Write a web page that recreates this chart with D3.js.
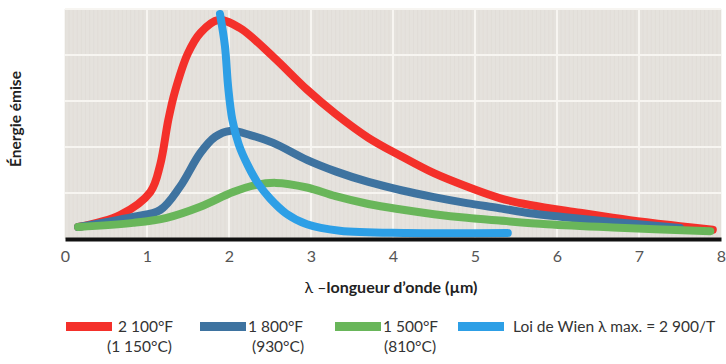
<!DOCTYPE html>
<html><head><meta charset="utf-8">
<script src="https://cdn.jsdelivr.net/npm/d3@7"></script>
<style>body{margin:0;background:#fff;}svg{display:block;font-family:Lato,"Open Sans",sans-serif;}</style>
</head><body>
<svg id="c" width="726" height="364"></svg>
<script>
const xTicks = [0,1,2,3,4,5,6,7,8];
const yGrid = [1,2,3,4,5];
const red2100 = [[0.16,0.26],[0.67,0.52],[1.04,1.02],[1.16,1.61],[1.26,2.59],[1.34,3.2],[1.5,4.04],[1.65,4.48],[1.87,4.76],[2.13,4.59],[2.54,3.96],[2.95,3.25],[3.3,2.72],[3.7,2.2],[4.1,1.8],[4.5,1.43],[4.9,1.14],[5.3,0.89],[5.67,0.74],[6.28,0.57],[6.89,0.41],[7.5,0.28],[7.9,0.2]];
const blue1800 = [[0.16,0.26],[0.83,0.48],[1.16,0.63],[1.4,1.13],[1.65,1.87],[1.83,2.22],[2.01,2.35],[2.26,2.26],[2.54,2.09],[2.95,1.72],[3.3,1.47],[3.7,1.24],[4.1,1.06],[4.5,0.91],[4.9,0.78],[5.3,0.67],[5.67,0.56],[6.07,0.48],[6.68,0.37],[7.5,0.24]];
const green1500 = [[0.16,0.26],[0.83,0.35],[1.24,0.46],[1.65,0.7],[2.05,1.02],[2.32,1.17],[2.57,1.22],[2.95,1.12],[3.3,0.93],[3.7,0.76],[4.1,0.64],[4.5,0.54],[4.9,0.46],[5.3,0.4],[5.88,0.32],[6.68,0.25],[7.87,0.17]];
const wien = [[1.89,4.89],[1.95,4.2],[1.99,3.3],[2.04,2.6],[2.12,2.05],[2.23,1.6],[2.35,1.22],[2.5,0.88],[2.7,0.55],[2.95,0.32],[3.35,0.18],[4.17,0.13],[5.4,0.13]];
const seriesNames = ["2 100°F","1 800°F","1 500°F","Loi de Wien λ max. = 2 900/T"];
const seriesSub = ["(1 150°C)","(930°C)","(810°C)",""];
const seriesColors = ["#f4302a","#3e73a0","#69b65a","#2d9fe6"];
const seriesData = [red2100, blue1800, green1500, wien];

const svg = d3.select("#c");
const x = d3.scaleLinear().domain([0,8]).range([65,721]);
const y = d3.scaleLinear().domain([0,5]).range([239,9]);

svg.append("rect").attr("x",x(0)).attr("y",y(5)).attr("width",x(8)-x(0)).attr("height",y(0)-y(5)).attr("fill","#e5e2dd");
const tex = d3.range(0,8.001,0.05);
svg.append("g").selectAll("line").data(tex).join("line")
  .attr("x1",d=>x(d)).attr("x2",d=>x(d)).attr("y1",y(5)).attr("y2",y(0))
  .attr("stroke","#dcd9d3").attr("stroke-width",0.5);
svg.append("g").selectAll("line").data(yGrid).join("line")
  .attr("x1",x(0)).attr("x2",x(8)).attr("y1",d=>y(d)).attr("y2",d=>y(d))
  .attr("stroke","#f7f5f1").attr("stroke-width",2);
svg.append("g").selectAll("line").data(xTicks.slice(1,8)).join("line")
  .attr("x1",d=>x(d)).attr("x2",d=>x(d)).attr("y1",y(5)).attr("y2",y(0))
  .attr("stroke","#f7f5f1").attr("stroke-width",2);

const line = d3.line().x(d=>x(d[0])).y(d=>y(d[1])).curve(d3.curveCatmullRom.alpha(0.5));
svg.append("g").selectAll("path").data(seriesData).join("path")
  .attr("d",line).attr("fill","none").attr("stroke",(d,i)=>seriesColors[i])
  .attr("stroke-width",8).attr("stroke-linecap","round").attr("stroke-linejoin","round");

const ax = svg.append("g").attr("transform",`translate(0,${y(0)})`)
  .call(d3.axisBottom(x).tickValues(xTicks).tickSize(0).tickPadding(12));
ax.select(".domain").attr("stroke","#111").attr("stroke-width",4);
ax.selectAll("text").attr("font-size",16).attr("fill","#555").attr("font-family","Lato,'Open Sans',sans-serif");

svg.append("text").attr("x",391).attr("y",293).attr("text-anchor","middle").attr("font-size",16).attr("fill","#222")
  .call(t=>{t.append("tspan").text("λ –");t.append("tspan").attr("font-weight","bold").text("longueur d’onde (µm)");});
svg.append("text").attr("transform","translate(21,119) rotate(-90)").attr("text-anchor","middle")
  .attr("font-size",15.5).attr("font-weight","bold").attr("fill","#222").text("Énergie émise");

const lx = [66,200,335,458];
const lg = svg.append("g");
seriesNames.forEach((n,i)=>{
  lg.append("rect").attr("x",lx[i]).attr("y",322).attr("width",46).attr("height",9).attr("fill",seriesColors[i]);
  lg.append("text").attr("x",lx[i]+(i===3?55:(i===0?52:48))).attr("y",332).attr("font-size",15.5).attr("fill","#333").text(n);
  if(seriesSub[i]) lg.append("text").attr("x",[107,252,384][i]).attr("y",352).attr("font-size",15.5).attr("fill","#333").text(seriesSub[i]);
});
</script>
</body></html>
